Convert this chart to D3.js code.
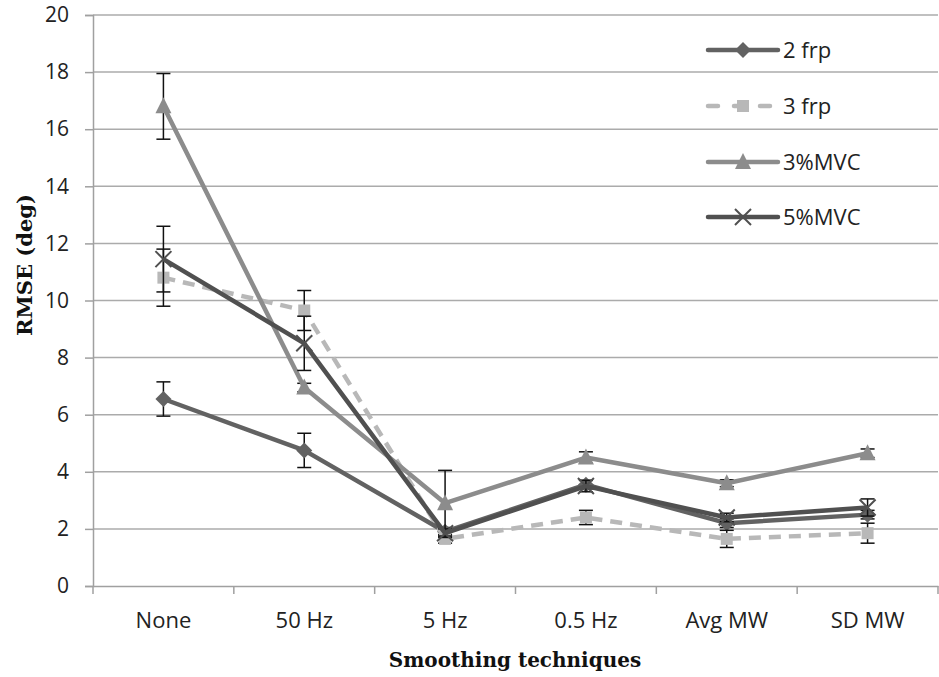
<!DOCTYPE html>
<html>
<head>
<meta charset="utf-8">
<script src="https://cdn.jsdelivr.net/npm/d3@7"></script>
<style>
  body { margin: 0; background: #fff; }
  svg { display: block; }
</style>
</head>
<body>
<div id="chart"></div>
<script>
// categories and values
var categories = ["None", "50 Hz", "5 Hz", "0.5 Hz", "Avg MW", "SD MW"];
var yTicks = [0, 2, 4, 6, 8, 10, 12, 14, 16, 18, 20];

var frp2 = [6.55, 4.75, 1.9, 3.55, 2.2, 2.5];
var frp2Err = [0.6, 0.6, 0.15, 0.15, 0.15, 0.15];

var frp3 = [10.8, 9.65, 1.65, 2.4, 1.65, 1.85];
var frp3Err = [1.0, 0.7, 0.15, 0.25, 0.3, 0.35];

var mvc3 = [16.8, 6.95, 2.9, 4.5, 3.6, 4.65];
var mvc3Err = [1.15, 0.15, 1.15, 0.2, 0.12, 0.15];

var mvc5 = [11.45, 8.5, 1.85, 3.5, 2.4, 2.75];
var mvc5Err = [1.15, 0.95, 0.15, 0.2, 0.15, 0.3];

var seriesNames = ["2 frp", "3 frp", "3%MVC", "5%MVC"];

// set the dimensions and margins of the graph
var W = 939, H = 677;
var margin = { top: 15, right: 1, bottom: 91, left: 93 },
  width = W - margin.left - margin.right,
  height = H - margin.top - margin.bottom;

var tickFont = "'Open Sans', sans-serif";
var titleFont = "'DejaVu Serif', serif";

var svg = d3.select("#chart")
  .append("svg")
  .attr("width", W)
  .attr("height", H);

var g = svg.append("g")
  .attr("transform", "translate(" + margin.left + "," + margin.top + ")");

var x = d3.scaleBand()
  .domain(categories)
  .range([0, width]);

var y = d3.scaleLinear()
  .domain([0, 20])
  .range([height, 0]);

// gridlines
g.selectAll(".grid")
  .data(yTicks.slice(1))
  .enter()
  .append("line")
  .attr("x1", 0)
  .attr("x2", width)
  .attr("y1", function (d) { return y(d); })
  .attr("y2", function (d) { return y(d); })
  .attr("stroke", "#ababab")
  .attr("stroke-width", 1.5);

// Y axis
var yAxis = g.append("g")
  .call(d3.axisLeft(y).tickValues(yTicks).tickSize(8).tickPadding(16));
yAxis.select(".domain").attr("stroke", "#a0a0a0").attr("stroke-width", 1.5);
yAxis.selectAll(".tick line").attr("stroke", "#a0a0a0").attr("stroke-width", 1.5);
yAxis.selectAll("text")
  .style("font-family", tickFont)
  .style("font-size", "21px")
  .attr("fill", "#222");

// X axis (ticks between categories)
var xAxis = g.append("g")
  .attr("transform", "translate(0," + height + ")")
  .call(d3.axisBottom(x).tickSize(0).tickPadding(26));
xAxis.select(".domain").attr("stroke", "#a0a0a0").attr("stroke-width", 1.5);
xAxis.selectAll("text")
  .style("font-family", tickFont)
  .style("font-size", "22px")
  .attr("fill", "#222");

var bounds = categories.map(function (c) { return x(c); }).concat([width]);
xAxis.selectAll(".sep")
  .data(bounds)
  .enter()
  .append("line")
  .attr("x1", function (d) { return d; })
  .attr("x2", function (d) { return d; })
  .attr("y1", 0)
  .attr("y2", 8)
  .attr("stroke", "#a0a0a0")
  .attr("stroke-width", 1.5);

// axis titles
svg.append("text")
  .attr("transform", "translate(32,265) rotate(-90)")
  .attr("text-anchor", "middle")
  .style("font-family", titleFont)
  .style("font-weight", "bold")
  .style("font-size", "21px")
  .attr("fill", "#111")
  .text("RMSE (deg)");

svg.append("text")
  .attr("x", 515)
  .attr("y", 667)
  .attr("text-anchor", "middle")
  .style("font-family", titleFont)
  .style("font-weight", "bold")
  .style("font-size", "20px")
  .attr("fill", "#111")
  .text("Smoothing techniques");

// series styles
var series = [
  { name: seriesNames[0], values: frp2, err: frp2Err, color: "#626262", dash: null, shape: "diamond" },
  { name: seriesNames[1], values: frp3, err: frp3Err, color: "#b8b8b8", dash: "12,8", shape: "square" },
  { name: seriesNames[2], values: mvc3, err: mvc3Err, color: "#8c8c8c", dash: null, shape: "triangle" },
  { name: seriesNames[3], values: mvc5, err: mvc5Err, color: "#505050", dash: null, shape: "cross" }
];

function cx(i) { return x(categories[i]) + x.bandwidth() / 2; }

function drawMarker(sel, shape, color) {
  if (shape == "diamond") {
    sel.append("path").attr("d", "M0,-8L8,0L0,8L-8,0Z").attr("fill", color);
  } else if (shape == "square") {
    sel.append("rect").attr("x", -6).attr("y", -6).attr("width", 12).attr("height", 12).attr("fill", color);
  } else if (shape == "triangle") {
    sel.append("path").attr("d", "M0,-9L8,7L-8,7Z").attr("fill", color);
  } else {
    sel.append("path").attr("d", "M-8,-8L8,8M-8,8L8,-8").attr("stroke", color).attr("stroke-width", 2);
  }
}

var line = d3.line()
  .x(function (d, i) { return cx(i); })
  .y(function (d) { return y(d); });

series.forEach(function (s) {
  // error bars
  var eb = g.append("g");
  s.values.forEach(function (v, i) {
    var x0 = cx(i), top = y(v + s.err[i]), bot = y(v - s.err[i]);
    eb.append("line").attr("x1", x0).attr("x2", x0).attr("y1", top).attr("y2", bot)
      .attr("stroke", "#111").attr("stroke-width", 1.5);
    [top, bot].forEach(function (yy) {
      eb.append("line").attr("x1", x0 - 7).attr("x2", x0 + 7).attr("y1", yy).attr("y2", yy)
        .attr("stroke", "#111").attr("stroke-width", 1.5);
    });
  });

  g.append("path")
    .datum(s.values)
    .attr("d", line)
    .attr("fill", "none")
    .attr("stroke", s.color)
    .attr("stroke-width", 4.5)
    .attr("stroke-dasharray", s.dash)
    .attr("stroke-linejoin", "round");

  s.values.forEach(function (v, i) {
    var m = g.append("g").attr("transform", "translate(" + cx(i) + "," + y(v) + ")");
    drawMarker(m, s.shape, s.color);
  });
});

// legend
var legendY = [50, 106, 162, 217];
series.forEach(function (s, i) {
  var lg = svg.append("g").attr("transform", "translate(708," + legendY[i] + ")");
  lg.append("line")
    .attr("x1", 0).attr("x2", 70)
    .attr("y1", 0).attr("y2", 0)
    .attr("stroke", s.color)
    .attr("stroke-width", 4.5)
    .attr("stroke-dasharray", s.dash ? "10,16" : null)
    .attr("stroke-linecap", "round");
  var m = lg.append("g").attr("transform", "translate(35,0)");
  drawMarker(m, s.shape, s.color);
  lg.append("text")
    .attr("x", 75)
    .attr("y", 0)
    .attr("dy", "0.35em")
    .style("font-family", tickFont)
    .style("font-size", "22px")
    .attr("fill", "#222")
    .text(s.name);
});
</script>
</body>
</html>
